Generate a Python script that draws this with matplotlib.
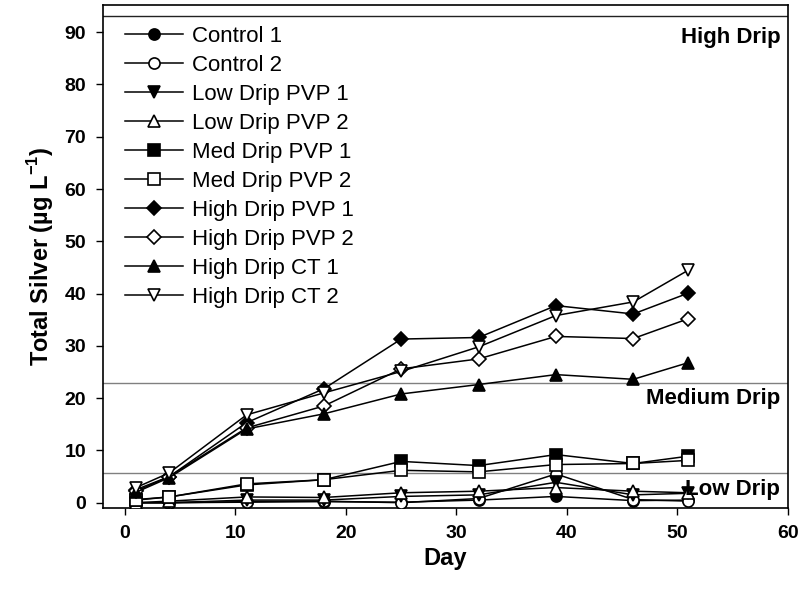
import numpy as np
import matplotlib.pyplot as plt

plt.rcParams['font.family'] = ['Liberation Sans', 'DejaVu Sans']
plt.rcParams['mathtext.fontset'] = 'custom'
plt.rcParams['mathtext.rm'] = 'Liberation Sans'
plt.rcParams['mathtext.bf'] = 'Liberation Sans:bold'

# sampling days
day = [1, 4, 11, 18, 25, 32, 39, 46, 51]

control_1 = [0.0, 0.0, 0.2, 0.2, 0.1, 0.5, 1.2, 0.4, 0.5]
control_2 = [0.0, 0.0, 0.1, 0.3, 0.0, 0.8, 5.5, 0.6, 0.3]
low_pvp_1 = [0.0, 0.0, 0.5, 0.5, 1.2, 1.5, 3.9, 1.5, 1.8]
low_pvp_2 = [0.0, 0.3, 1.1, 1.0, 1.9, 2.2, 2.9, 2.2, 1.9]
med_pvp_1 = [0.5, 1.1, 3.4, 4.4, 7.9, 7.1, 9.2, 7.5, 8.9]
med_pvp_2 = [0.6, 1.1, 3.6, 4.4, 6.2, 5.9, 7.3, 7.5, 8.1]
high_pvp_1 = [2.5, 5.0, 15.3, 21.8, 31.3, 31.6, 37.7, 36.1, 40.1]
high_pvp_2 = [2.2, 5.0, 14.3, 18.5, 25.6, 27.5, 31.8, 31.4, 35.2]
high_ct_1 = [2.0, 4.8, 14.1, 17.0, 20.8, 22.6, 24.5, 23.6, 26.8]
high_ct_2 = [2.9, 5.7, 16.8, 21.0, 25.1, 29.8, 35.8, 38.4, 44.5]

# drip level reference lines
drip_levels = [93.0, 22.9, 5.7]
drip_names = ['High Drip', 'Medium Drip', 'Low Drip']

series = [
    ('Control 1', control_1, 'o', 'black'),
    ('Control 2', control_2, 'o', 'white'),
    ('Low Drip PVP 1', low_pvp_1, 'v', 'black'),
    ('Low Drip PVP 2', low_pvp_2, '^', 'white'),
    ('Med Drip PVP 1', med_pvp_1, 's', 'black'),
    ('Med Drip PVP 2', med_pvp_2, 's', 'white'),
    ('High Drip PVP 1', high_pvp_1, 'D', 'black'),
    ('High Drip PVP 2', high_pvp_2, 'D', 'white'),
    ('High Drip CT 1', high_ct_1, '^', 'black'),
    ('High Drip CT 2', high_ct_2, 'v', 'white'),
]

fig = plt.figure(figsize=(8.04, 5.92), dpi=100)
ax = fig.add_axes([0.128, 0.142, 0.852, 0.8496])

for y in drip_levels[1:]:
    ax.axhline(y, color='#808080', lw=1.0, zorder=1)
ax.axhline(drip_levels[0], color='#222222', lw=1.0, zorder=1)

for name, vals, mk, fc in series:
    ms = 7 if mk == 'D' else 8
    ax.plot(day, vals, color='black', lw=1.1, marker=mk, ms=ms,
            mfc=fc, mec='black', mew=1.2, label=name, zorder=3)

label_y = [88.9, 19.9, 2.5]
for name, ly in zip(drip_names, label_y):
    ax.text(59.3, ly, name, ha='right', va='center', fontsize=16,
            fontweight='bold', zorder=4)

ax.set_xlim(-2, 60)
ax.set_ylim(-1, 95.2)
ax.set_xticks(np.arange(0, 61, 10))
ax.set_yticks(np.arange(0, 91, 10))
ax.tick_params(axis='both', direction='out', length=5, width=1,
               labelsize=14, top=False, right=False)
ax.tick_params(axis='y', pad=7)
ax.tick_params(axis='x', pad=7)
for lab in ax.get_xticklabels() + ax.get_yticklabels():
    lab.set_fontweight('bold')
for sp in ax.spines.values():
    sp.set_linewidth(1.2)

ax.set_xlabel('Day', fontsize=17, fontweight='bold', labelpad=4)
ax.set_ylabel(r'Total Silver (µg L$^{\mathbf{-1}}$)', fontsize=17,
              fontweight='bold', labelpad=6)

ax.legend(loc='upper left', bbox_to_anchor=(0.01, 0.99), frameon=False,
          fontsize=16, handlelength=2.6, labelspacing=0.36, handletextpad=0.4,
          borderaxespad=0.3)

fig.savefig('out.png', dpi=100)
